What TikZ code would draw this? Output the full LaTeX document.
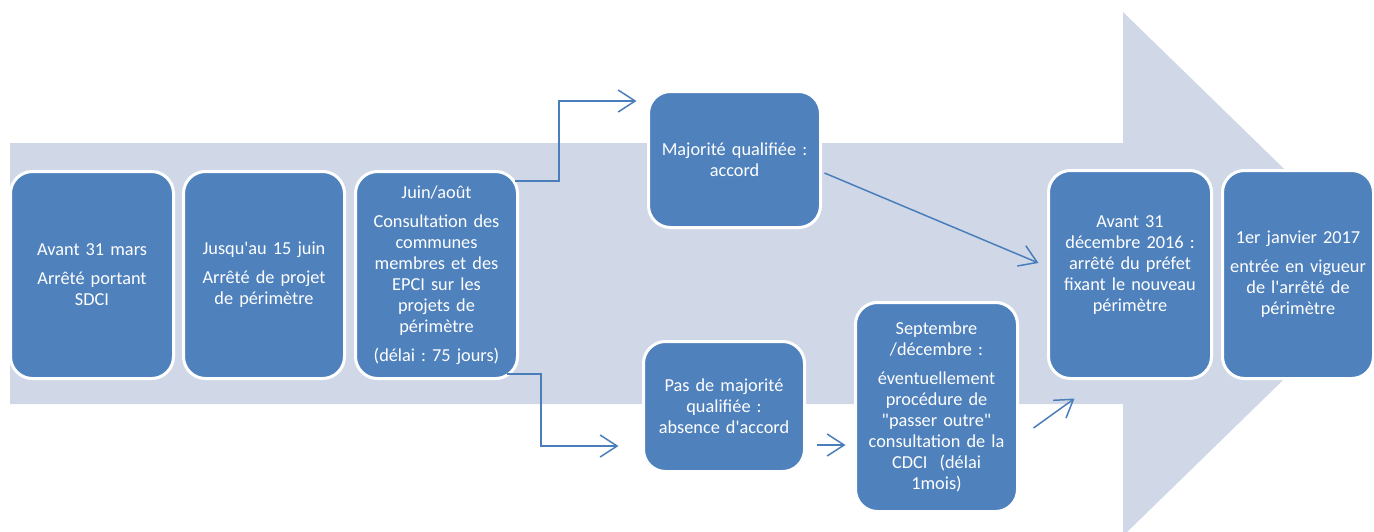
\documentclass[tikz,border=0pt]{standalone}
\usepackage{fontspec}
\setmainfont{Carlito}[Ligatures=TeXOff]
\usetikzlibrary{arrows.meta,calc}
\definecolor{bgarrow}{HTML}{D0D8E8}
\definecolor{boxblue}{HTML}{4F81BD}
\definecolor{connblue}{HTML}{4A7EBB}
\begin{document}
\frenchspacing
\begin{tikzpicture}[x=1pt,y=-1pt,
  stepbox/.style={draw=white, line width=3pt, fill=boxblue, rounded corners=22pt,
    text=white, align=center, inner sep=0pt, font=\fontsize{18.3}{21}\selectfont},
  conn/.style={draw=connblue, line width=1.5pt, -{Straight Barb[length=17pt,width=22pt,line width=1.5pt]}}]
\useasboundingbox (0,0) rectangle (1374,531);
\begin{scope}
\clip (0,0) rectangle (1374,531);
\fill[bgarrow] (10,143) -- (1123,143) -- (1123,12) -- (1392,274) -- (1123,536) -- (1123,404) -- (10,404) -- cycle;
\end{scope}
\node[stepbox, minimum width=163pt, minimum height=207pt, text width=156pt] (b1) at (92,275)
  {Avant 31 mars\\[8pt]Arrêté portant\\SDCI};
\node[stepbox, minimum width=161pt, minimum height=207pt, text width=156pt] (b2) at (264,275)
  {Jusqu'au 15 juin\\[8pt]Arrêté de projet\\de périmètre};
\node[stepbox, minimum width=162pt, minimum height=207pt, text width=156pt] (b3) at (436.5,275)
  {Juin/août\\[8pt]Consultation des\\communes\\membres et des\\EPCI sur les\\projets de\\périmètre\\[8pt](délai : 75 jours)};
\node[stepbox, minimum width=172pt, minimum height=136pt, text width=166pt] (b4) at (734.5,159.5)
  {Majorité qualifiée :\\accord};
\node[stepbox, minimum width=161pt, minimum height=130pt, text width=156pt] (b5) at (724,406.5)
  {Pas de majorité\\qualifiée :\\absence d'accord};
\node[stepbox, minimum width=162pt, minimum height=209pt, text width=156pt] (b6) at (936.5,407)
  {Septembre\\/décembre :\\[8pt]éventuellement\\procédure de\\"passer outre"\\consultation de la\\CDCI~~(délai\\1mois)};
\node[stepbox, minimum width=163pt, minimum height=208pt, text width=156pt] (b7) at (1130,274.5)
  {Avant 31\\décembre 2016 :\\arrêté du préfet\\fixant le nouveau\\périmètre\\\mbox{}};
\node[stepbox, minimum width=151pt, minimum height=208pt, text width=148pt] (b8) at (1298,274.5)
  {1er janvier 2017\\[8pt]entrée en vigueur\\de l'arrêté de\\périmètre};
\draw[conn] ($(b3.north east)+(-4,11)$) -- ++(44,0) |- ($(b4.west)+(-10.5,-58.5)$);
\draw[conn] ($(b3.south east)+(-12,-6)$) -- ++(34,0) |- ($(b5.west)+(-23.5,39.5)$);
\draw[conn] ($(b4.east)+(2.5,13.5)$) -- ($(b7.west)+(-8.5,-11.5)$);
\draw[conn] ($(b5.east)+(10.5,38.5)$) -- ($(b6.west)+(-8.5,38)$);
\draw[conn] ($(b6.east)+(14.5,21)$) -- ($(b7.south west)+(27.5,18.5)$);
\end{tikzpicture}
\end{document}
